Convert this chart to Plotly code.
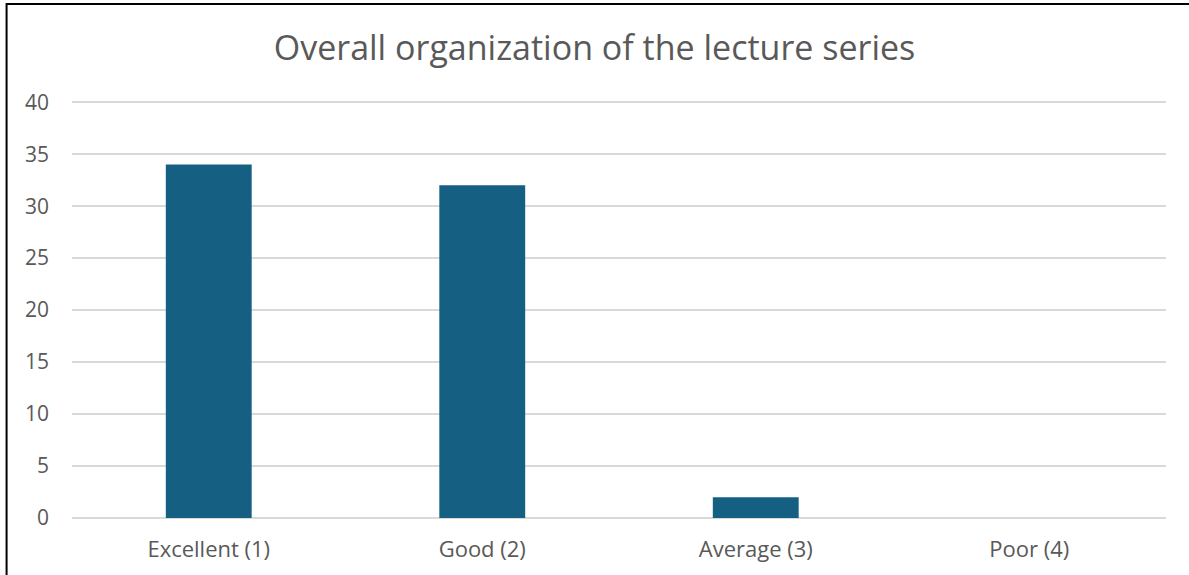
import plotly.graph_objects as go

categories = ["Excellent (1)", "Good (2)", "Average (3)", "Poor (4)"]
responses = [34, 32, 2, 0]
y_ticks = [0, 5, 10, 15, 20, 25, 30, 35, 40]

_BAR = "#156082"
_TEXT = "#595959"
_GRID = "#d9d9d9"
_FONT = "Open Sans, Roboto, sans-serif"

fig = go.Figure(
    go.Bar(x=categories, y=responses, marker=dict(color=_BAR, line=dict(width=0)))
)

fig.update_layout(
    width=1189,
    height=575,
    paper_bgcolor="white",
    plot_bgcolor="white",
    margin=dict(l=72, r=23, t=97, b=57),
    bargap=0.686,
    showlegend=False,
    title=dict(
        text="Overall organization of the lecture series",
        x=0.5,
        xanchor="center",
        y=0.917,
        yanchor="middle",
        font=dict(family=_FONT, size=34, color=_TEXT),
    ),
    font=dict(family=_FONT, color=_TEXT, size=16),
    xaxis=dict(
        showgrid=False,
        showline=False,
        zeroline=False,
        ticks="",
        ticklabelstandoff=16,
        tickfont=dict(size=22, color=_TEXT),
    ),
    yaxis=dict(
        range=[0, 40.5],
        tickvals=y_ticks,
        showgrid=True,
        gridcolor=_GRID,
        gridwidth=1.5,
        zeroline=True,
        zerolinecolor=_GRID,
        zerolinewidth=1.5,
        showline=False,
        ticks="",
        ticklabelstandoff=22,
        tickfont=dict(size=21, color=_TEXT),
    ),
    # chart frame, cropped on the right and bottom
    shapes=[
        dict(
            type="rect",
            xref="paper",
            yref="paper",
            x0=-0.0598,
            x1=1.2,
            y0=-0.5,
            y1=(518 - 4) / 421,
            line=dict(color="black", width=2),
            fillcolor="rgba(0,0,0,0)",
            layer="above",
        )
    ],
)

# drop the default page margin so the figure sits at the window's corner
fig.write_html(
    "out.html",
    config={"displayModeBar": False},
    post_script="document.body.style.margin='0';",
)
